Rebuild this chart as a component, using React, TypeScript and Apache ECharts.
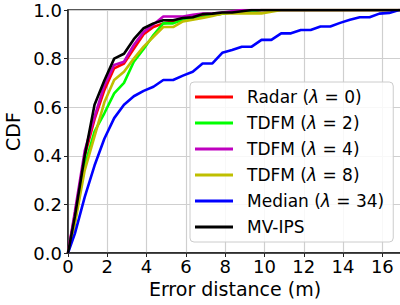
import React, { useEffect, useRef } from "react";
import * as echarts from "echarts";

const distances = [0, 0.35, 0.85, 1.35, 1.85, 2.35, 2.85, 3.35, 3.85, 4.35, 4.85, 5.35, 5.85, 6.35, 6.85, 7.35, 7.85, 8.35, 8.85, 9.35, 9.85, 10.35, 10.85, 11.35, 11.85, 12.35, 12.85, 13.35, 13.85, 14.35, 14.85, 15.35, 15.85, 16.35, 16.85, 17.35];

const radar = [0, 0.16, 0.4, 0.55, 0.67, 0.76, 0.78, 0.84, 0.9, 0.93, 0.945, 0.953, 0.967, 0.97, 0.975, 0.98, 0.985, 0.99, 0.99, 0.995, 1, 1, 1, 1, 1, 1, 1, 1, 1, 1, 1, 1, 1, 1, 1, 1];
const tdfm2 = [0, 0.13, 0.36, 0.5, 0.575, 0.657, 0.7, 0.787, 0.84, 0.897, 0.945, 0.945, 0.96, 0.965, 0.97, 0.98, 0.985, 0.99, 0.99, 0.995, 1, 1, 1, 1, 1, 1, 1, 1, 1, 1, 1, 1, 1, 1, 1, 1];
const tdfm4 = [0, 0.17, 0.42, 0.56, 0.69, 0.774, 0.787, 0.856, 0.91, 0.94, 0.973, 0.973, 0.973, 0.98, 0.985, 0.985, 0.99, 0.995, 1, 1, 1, 1, 1, 1, 1, 1, 1, 1, 1, 1, 1, 1, 1, 1, 1, 1];
const tdfm8 = [0, 0.12, 0.34, 0.48, 0.62, 0.712, 0.746, 0.8, 0.849, 0.89, 0.93, 0.93, 0.953, 0.96, 0.967, 0.975, 0.986, 0.986, 0.986, 0.986, 0.986, 0.993, 1, 1, 1, 1, 1, 1, 1, 1, 1, 1, 1, 1, 1, 1];
const median = [0, 0.08, 0.23, 0.36, 0.47, 0.555, 0.61, 0.645, 0.667, 0.684, 0.712, 0.712, 0.73, 0.746, 0.78, 0.78, 0.824, 0.835, 0.849, 0.849, 0.877, 0.877, 0.904, 0.904, 0.918, 0.918, 0.932, 0.932, 0.947, 0.96, 0.97, 0.97, 0.985, 0.988, 1, 1];
const mvips = [0, 0.15, 0.4, 0.61, 0.71, 0.8, 0.82, 0.88, 0.925, 0.945, 0.958, 0.958, 0.967, 0.97, 0.983, 0.985, 0.99, 0.99, 0.995, 1, 1, 1, 1, 1, 1, 1, 1, 1, 1, 1, 1, 1, 1, 1, 1, 1];

const seriesNames = ["Radar (λ = 0)", "TDFM (λ = 2)", "TDFM (λ = 4)", "TDFM (λ = 8)", "Median (λ = 34)", "MV-IPS"];
const seriesValues = [radar, tdfm2, tdfm4, tdfm8, median, mvips];
const seriesColors = ["#ff0000", "#00ff00", "#bf00bf", "#bfbf00", "#0000ff", "#000000"];

const FONT = "DejaVu Sans";

export default function App() {
  const ref = useRef<HTMLDivElement>(null);
  useEffect(() => {
    if (!ref.current) return;
    const chart = echarts.init(ref.current, null, { renderer: "svg" });
    chart.setOption({
      animation: false,
      backgroundColor: "#ffffff",
      grid: {
        left: 68,
        top: 10,
        right: -2,
        bottom: 52,
        containLabel: false,
        outerBoundsMode: "none",
        show: true,
        borderColor: "#222",
        borderWidth: 1.5,
      },
      xAxis: {
        type: "value",
        min: 0,
        max: 17,
        interval: 2,
        name: "Error distance (m)",
        nameLocation: "middle",
        nameGap: 24,
        nameTextStyle: { fontFamily: FONT, fontSize: 19, color: "#000" },
        axisLine: { show: true, lineStyle: { color: "#222", width: 1.5 } },
        axisTick: { show: true, length: 4, lineStyle: { color: "#222" } },
        axisLabel: {
          fontFamily: FONT,
          fontSize: 18,
          color: "#000",
          margin: 4,
          showMaxLabel: false,
          formatter: (v: number) => String(v),
        },
        splitLine: { show: true, lineStyle: { color: "#cfcfcf", width: 1.2 } },
      },
      yAxis: {
        type: "value",
        min: 0,
        max: 1,
        interval: 0.2,
        name: "CDF",
        nameLocation: "middle",
        nameGap: 40,
        nameRotate: 90,
        nameTextStyle: { fontFamily: FONT, fontSize: 19, color: "#000" },
        axisLine: { show: true, lineStyle: { color: "#222", width: 1.5 } },
        axisTick: { show: true, length: 4, lineStyle: { color: "#222" } },
        axisLabel: {
          fontFamily: FONT,
          fontSize: 18,
          color: "#000",
          margin: 6,
          formatter: (v: number) => v.toFixed(1),
        },
        splitLine: { show: true, lineStyle: { color: "#cfcfcf", width: 1.2 } },
      },
      legend: {
        orient: "vertical",
        left: 190,
        top: 82,
        padding: [5, 9, 5, 5],
        itemWidth: 38,
        itemHeight: 3,
        itemGap: 6,
        icon: "rect",
        backgroundColor: "rgba(255,255,255,0.85)",
        borderColor: "#cccccc",
        borderWidth: 1,
        borderRadius: 4,
        data: seriesNames,
        formatter: (name: string) => name.replace("λ", "{i|λ}"),
        textStyle: {
          fontFamily: FONT,
          fontSize: 17,
          color: "#000",
          lineHeight: 20,
          padding: [0, 0, 0, 9],
          rich: {
            i: { fontFamily: FONT, fontSize: 17, fontStyle: "italic", color: "#000", lineHeight: 20 },
          },
        },
      },
      series: seriesNames.map((name, si) => ({
        name,
        type: "line",
        data: distances.map((d, i) => [d, seriesValues[si][i]]),
        showSymbol: false,
        symbol: "none",
        clip: true,
        lineStyle: { color: seriesColors[si], width: 2.6 },
        itemStyle: { color: seriesColors[si] },
      })),
    });
    return () => chart.dispose();
  }, []);
  return (
    <div
      ref={ref}
      style={{ position: "fixed", left: 0, top: 0, width: 400, height: 305 }}
    />
  );
}
